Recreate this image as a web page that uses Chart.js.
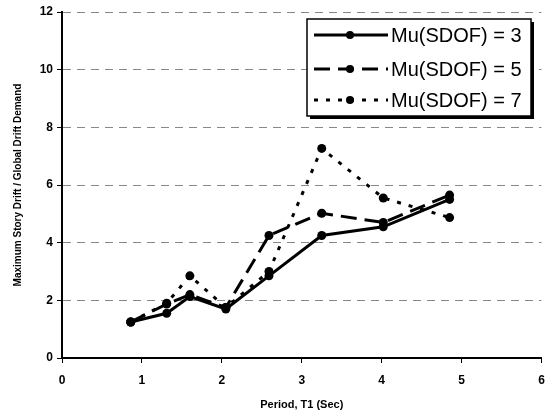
<!DOCTYPE html>
<html lang="en">
<head>
    <meta charset="UTF-8">
    <title>Story drift ratio vs period</title>
    <script src="https://cdn.jsdelivr.net/npm/chart.js"></script>
    <style>
        body { margin: 0; background: #fff; }
        #wrap { width: 546px; height: 416px; }
    </style>
</head>
<body>
    <div id="wrap"><canvas id="grafico" width="546" height="416"></canvas></div>
    <script>
        // periodi (sec) e rapporti di drift
        const periodi = [0.86, 1.31, 1.6, 2.05, 2.59, 3.25, 4.02, 4.85];
        const mu3 = [1.25, 1.55, 2.13, 1.7, 2.85, 4.25, 4.55, 5.5];
        const mu5 = [1.25, 1.87, 2.2, 1.75, 4.25, 5.02, 4.7, 5.65];
        const mu7 = [1.25, 1.9, 2.85, 1.75, 3.0, 7.27, 5.55, 4.87];
        const etichette = ['Mu(SDOF) = 3', 'Mu(SDOF) = 5', 'Mu(SDOF) = 7'];
        const tratti = [[], [16, 8], [4, 8]];

        const font = "'Liberation Sans', Arial, sans-serif";

        function punti(ys) {
            return periodi.map((x, i) => ({ x: x, y: ys[i] }));
        }

        const serie = [mu3, mu5, mu7].map((ys, i) => ({
            label: etichette[i],
            data: punti(ys),
            borderColor: '#000',
            backgroundColor: '#000',
            borderWidth: 3,
            borderDash: tratti[i],
            pointRadius: 4.5,
            pointBorderWidth: 0,
            pointBackgroundColor: '#000',
            tension: 0,
            fill: false
        }));

        // legenda disegnata dentro l'area del grafico
        const legendaInterna = {
            id: 'legendaInterna',
            afterDraw(chart) {
                const ctx = chart.ctx;
                const bx = 307, by = 19, bw = 224, bh = 97;
                ctx.save();
                ctx.fillStyle = '#000';
                ctx.fillRect(bx + 3, by + 3, bw, bh);
                ctx.fillStyle = '#fff';
                ctx.fillRect(bx, by, bw, bh);
                ctx.strokeStyle = '#000';
                ctx.lineWidth = 1.5;
                ctx.strokeRect(bx, by, bw, bh);
                const righe = [35, 69, 100];
                chart.data.datasets.forEach((ds, i) => {
                    const y = righe[i];
                    ctx.strokeStyle = '#000';
                    ctx.fillStyle = '#000';
                    ctx.beginPath();
                    ctx.setLineDash(ds.borderDash);
                    ctx.lineWidth = 3;
                    ctx.moveTo(314, y);
                    ctx.lineTo(388, y);
                    ctx.stroke();
                    ctx.setLineDash([]);
                    ctx.beginPath();
                    ctx.arc(350, y, 4, 0, Math.PI * 2);
                    ctx.fill();
                    ctx.font = '20px ' + font;
                    ctx.textBaseline = 'middle';
                    ctx.textAlign = 'left';
                    ctx.fillText(ds.label, 391, y + 1);
                });
                ctx.restore();
            }
        };

        const ctx = document.getElementById('grafico').getContext('2d');
        const chart = new Chart(ctx, {
            type: 'line',
            data: { datasets: serie },
            plugins: [legendaInterna],
            options: {
                responsive: false,
                animation: false,
                layout: { padding: { top: 12, right: 4, left: 0, bottom: 0 } },
                plugins: {
                    legend: { display: false },
                    tooltip: { enabled: false }
                },
                scales: {
                    x: {
                        type: 'linear',
                        min: 0,
                        max: 6,
                        ticks: {
                            stepSize: 1,
                            color: '#000',
                            padding: 10,
                            font: { family: font, size: 12, weight: 'bold' }
                        },
                        grid: { drawOnChartArea: false, color: '#000', tickLength: 5 },
                        border: { color: '#000', width: 2 },
                        title: {
                            display: true,
                            text: 'Period, T1 (Sec)',
                            color: '#000',
                            padding: { top: 5 },
                            font: { family: font, size: 11, weight: 'bold' }
                        },
                        afterFit(scale) {
                            scale.height = 58;
                            scale.paddingLeft = 0;
                            scale.paddingRight = 4;
                        }
                    },
                    y: {
                        min: 0,
                        max: 12,
                        ticks: {
                            stepSize: 2,
                            color: '#000',
                            padding: 4,
                            font: { family: font, size: 12, weight: 'bold' }
                        },
                        grid: { color: '#888', lineWidth: 1, tickLength: 5, tickColor: '#000' },
                        border: { color: '#000', width: 2, dash: [8, 6] },
                        title: {
                            display: true,
                            text: 'Maximum Story Drift / Global Drift Demand',
                            color: '#000',
                            padding: { top: 12, bottom: 8 },
                            font: { family: font, size: 10, weight: 'bold' }
                        },
                        afterFit(scale) { scale.width = 62; }
                    }
                }
            }
        });
    </script>
</body>
</html>
